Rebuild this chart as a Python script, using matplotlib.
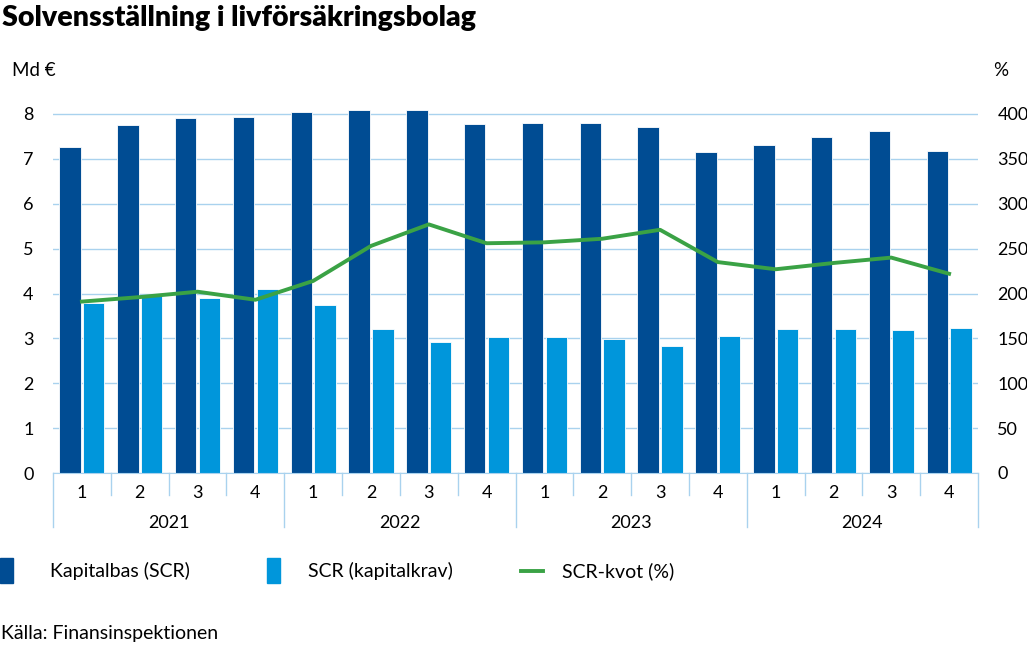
import numpy as np
import matplotlib.pyplot as plt
from matplotlib.patches import Rectangle
from matplotlib.lines import Line2D
from matplotlib.transforms import blended_transform_factory

plt.rcParams['font.family'] = ['Lato', 'DejaVu Sans']

# Data
years = ['2021', '2022', '2023', '2024']
quarters = ['1', '2', '3', '4'] * 4
kapitalbas = [7.27, 7.76, 7.91, 7.94, 8.05, 8.10, 8.09, 7.78,
              7.81, 7.81, 7.70, 7.16, 7.32, 7.49, 7.62, 7.18]
scr = [3.79, 3.96, 3.90, 4.10, 3.74, 3.21, 2.92, 3.04,
       3.04, 2.98, 2.84, 3.05, 3.21, 3.21, 3.18, 3.24]
scr_kvot = [191, 196, 202, 193, 214, 253, 277, 256,
            257, 261, 271, 235, 227, 234, 240, 222]

dark = '#004c93'
light = '#0096db'
green = '#3aa245'
gridc = '#a9d2ee'

W, H = 1027, 664
fig = plt.figure(figsize=(W / 100, H / 100), dpi=100)

def fx(px):
    return px / W

def fy(py):
    return 1 - py / H

unit = (473 - 114) / 8.0
ytop = 8.3
ax = fig.add_axes([fx(53), fy(473), fx(978) - fx(53), (ytop * unit) / H])
x = np.arange(len(kapitalbas))
bw = 0.37
ax.bar(x - bw / 2 - 0.02, kapitalbas, bw, color=dark, edgecolor='white', linewidth=0.6, zorder=2)
ax.bar(x + bw / 2 + 0.02, scr, bw, color=light, edgecolor='white', linewidth=0.6, zorder=2)
ax.set_xlim(-0.5, len(x) - 0.5)
ax.set_ylim(0, ytop)
ax.set_yticks(range(0, 9))
ax.grid(axis='y', color=gridc, linewidth=1)
ax.set_axisbelow(True)
for s in ['top', 'left', 'right']:
    ax.spines[s].set_visible(False)
ax.spines['bottom'].set_color(gridc)
ax.tick_params(axis='y', length=0, labelsize=13, pad=14)
ax.set_xticks([])

ax2 = ax.twinx()
ax2.plot(x, scr_kvot, color=green, linewidth=2.8, zorder=3)
ax2.set_ylim(0, ytop * 50)
ax2.set_yticks(range(0, 401, 50))
for s in ['top', 'left', 'right', 'bottom']:
    ax2.spines[s].set_visible(False)
ax2.tick_params(axis='y', length=0, labelsize=13, pad=14)

# category axis: quarters and years
tr = blended_transform_factory(ax.transData, ax.transAxes)
axh = ytop * unit
for i in range(len(x) + 1):
    bottom = -54 / axh if i % 4 == 0 else -22 / axh
    ax.plot([i - 0.5, i - 0.5], [0, bottom], color=gridc, linewidth=1,
            transform=tr, clip_on=False)
for i, q in enumerate(quarters):
    ax.text(i, -20 / axh, q, transform=tr, ha='center', va='center', fontsize=13)
for j, yr in enumerate(years):
    ax.text(4 * j + 1.5, -50 / axh, yr, transform=tr, ha='center', va='center', fontsize=13)

# titles
fig.text(fx(2), fy(18), 'Solvensställning i livförsäkringsbolag', fontsize=20.5,
         fontweight='heavy', va='center', ha='left')
fig.text(fx(12), fy(70), 'Md €', fontsize=13.5, va='center', ha='left')
fig.text(fx(993), fy(70), '%', fontsize=13.5, va='center', ha='left')

# legend
fig.patches.append(Rectangle((fx(0), fy(583)), fx(13), fy(558) - fy(583),
                             color=dark, transform=fig.transFigure))
fig.text(fx(50), fy(571), 'Kapitalbas (SCR)', fontsize=14, va='center')
fig.patches.append(Rectangle((fx(267), fy(583)), fx(13), fy(558) - fy(583),
                             color=light, transform=fig.transFigure))
fig.text(fx(308), fy(571), 'SCR (kapitalkrav)', fontsize=14, va='center')
fig.lines.append(Line2D([fx(521), fx(543)], [fy(571), fy(571)], color=green,
                        linewidth=2.8, transform=fig.transFigure))
fig.text(fx(562), fy(571), 'SCR-kvot (%)', fontsize=14, va='center')

fig.text(fx(1), fy(633), 'Källa: Finansinspektionen', fontsize=14, va='center')

fig.savefig('out.png', dpi=100)
